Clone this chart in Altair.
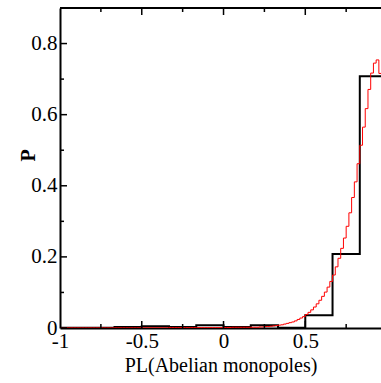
import altair as alt
import pandas as pd

# ---- data ----
black_bin_width = 1 / 6
black_p = [0.0005, 0.001, 0.003, 0.005, 0.003, 0.008,
           0.003, 0.008, 0.001, 0.036, 0.208, 0.708]

red_bin_width = 1 / 60
red_p = [
    0.0003, 0.0003, 0.0003, 0.0003, 0.0003, 0.0003, 0.0003, 0.0003, 0.0003, 0.0003,
    0.0003, 0.0003, 0.0003, 0.0003, 0.0003, 0.0003, 0.0003, 0.0003, 0.0003, 0.0003,
    0.0005, 0.0005, 0.0005, 0.0005, 0.0005, 0.0005, 0.0005, 0.0005, 0.0005, 0.0005,
    0.0005, 0.0005, 0.0005, 0.0005, 0.0005, 0.0005, 0.0005, 0.0005, 0.0005, 0.0005,
    0.001, 0.001, 0.001, 0.001, 0.001, 0.001, 0.001, 0.001, 0.001, 0.001,
    0.001, 0.001, 0.001, 0.001, 0.001, 0.001, 0.001, 0.001, 0.001, 0.001,
    0.0015, 0.0015, 0.0015, 0.002, 0.002, 0.002, 0.002, 0.002, 0.002, 0.002,
    0.002, 0.002, 0.002, 0.003, 0.003, 0.004, 0.004, 0.005, 0.006, 0.007,
    0.008, 0.009, 0.011, 0.013, 0.015, 0.017, 0.020, 0.024, 0.028, 0.032,
    0.038, 0.044, 0.051, 0.059, 0.068, 0.078, 0.089, 0.101, 0.115, 0.131,
    0.149, 0.172, 0.196, 0.224, 0.253, 0.286, 0.324, 0.367, 0.411, 0.462,
    0.514, 0.565, 0.617, 0.671, 0.717, 0.745, 0.754, 0.716,
]

x_major = [-1, -0.5, 0, 0.5]
x_minor = [-0.75, -0.25, 0.25, 0.75]
y_major = [0, 0.2, 0.4, 0.6, 0.8]
y_minor = [0.1, 0.3, 0.5, 0.7]

x_domain = [-1, 0.963]
y_domain = [0, 0.9]

W, H = 321, 320
FONT = "'Liberation Serif', 'Times New Roman', 'DejaVu Serif', serif"


def step_frame(values, width):
    xs = [-1 + i * width for i in range(len(values) + 1)]
    ys = list(values) + [values[-1]]
    return pd.DataFrame({"x": xs, "p": ys})


black_df = step_frame(black_p, black_bin_width)
red_df = step_frame(red_p, red_bin_width)

xs = alt.Scale(domain=x_domain, nice=False, zero=False)
ys = alt.Scale(domain=y_domain, nice=False, zero=False)

x_axis = alt.Axis(
    values=x_major, labelExpr="'' + datum.value", ticks=False, tickSize=0,
    grid=False, domainColor="black", domainWidth=2, labelFont=FONT,
    labelFontSize=21, labelColor="black", labelPadding=2,
    title="PL(Abelian monopoles)", titleFont=FONT, titleFontSize=20,
    titleFontWeight="normal", titleColor="black", titlePadding=4,
    labelFlush=False, labelOverlap=False,
)
y_axis = alt.Axis(
    values=y_major, labelExpr="'' + datum.value", ticks=False, tickSize=0,
    grid=False, domainColor="black", domainWidth=2, labelFont=FONT,
    labelFontSize=21, labelColor="black", labelPadding=3,
    title="P", titleFont=FONT, titleFontSize=20, titleFontWeight="bold",
    titleColor="black", titleAngle=270, titleX=-32, titleY=147,
    titleAlign="center", titleBaseline="middle",
    labelFlush=False, labelOverlap=False,
)

black = alt.Chart(black_df).mark_line(
    interpolate="step-after", color="black", strokeWidth=2, clip=True
).encode(
    x=alt.X("x:Q", scale=xs, axis=x_axis),
    y=alt.Y("p:Q", scale=ys, axis=y_axis),
)

red = alt.Chart(red_df).mark_line(
    interpolate="step-after", color="#ff0000", strokeWidth=1, clip=True
).encode(
    x=alt.X("x:Q", scale=xs),
    y=alt.Y("p:Q", scale=ys),
)

xmaj_df = pd.DataFrame({"v": x_major})
xmin_df = pd.DataFrame({"v": x_minor})
ymaj_df = pd.DataFrame({"v": y_major})
ymin_df = pd.DataFrame({"v": y_minor})

def xticks(df, length):
    bottom = alt.Chart(df).mark_rule(color="black", strokeWidth=1.5, clip=True).encode(
        x=alt.X("v:Q", scale=xs), y=alt.value(H), y2=alt.value(H - length))
    top = alt.Chart(df).mark_rule(color="black", strokeWidth=1.5, clip=True).encode(
        x=alt.X("v:Q", scale=xs), y=alt.value(0), y2=alt.value(length))
    return bottom + top

def yticks(df, length):
    return alt.Chart(df).mark_rule(color="black", strokeWidth=1.5, clip=True).encode(
        y=alt.Y("v:Q", scale=ys), x=alt.value(0), x2=alt.value(length))

top_border = alt.Chart(xmaj_df).mark_rule(color="black", strokeWidth=2).encode(
    x=alt.value(0), x2=alt.value(W), y=alt.value(0))

chart = alt.layer(
    black, red,
    xticks(xmaj_df, 7), xticks(xmin_df, 4),
    yticks(ymaj_df, 7), yticks(ymin_df, 4),
    top_border,
).properties(
    width=W, height=H,
    autosize=alt.AutoSizeParams(type="none"),
    padding={"left": 60, "top": 8, "right": 0, "bottom": 55},
    background="white",
).configure_view(stroke=None)

chart.save("out.html", embed_options={"renderer": "svg", "actions": False})
